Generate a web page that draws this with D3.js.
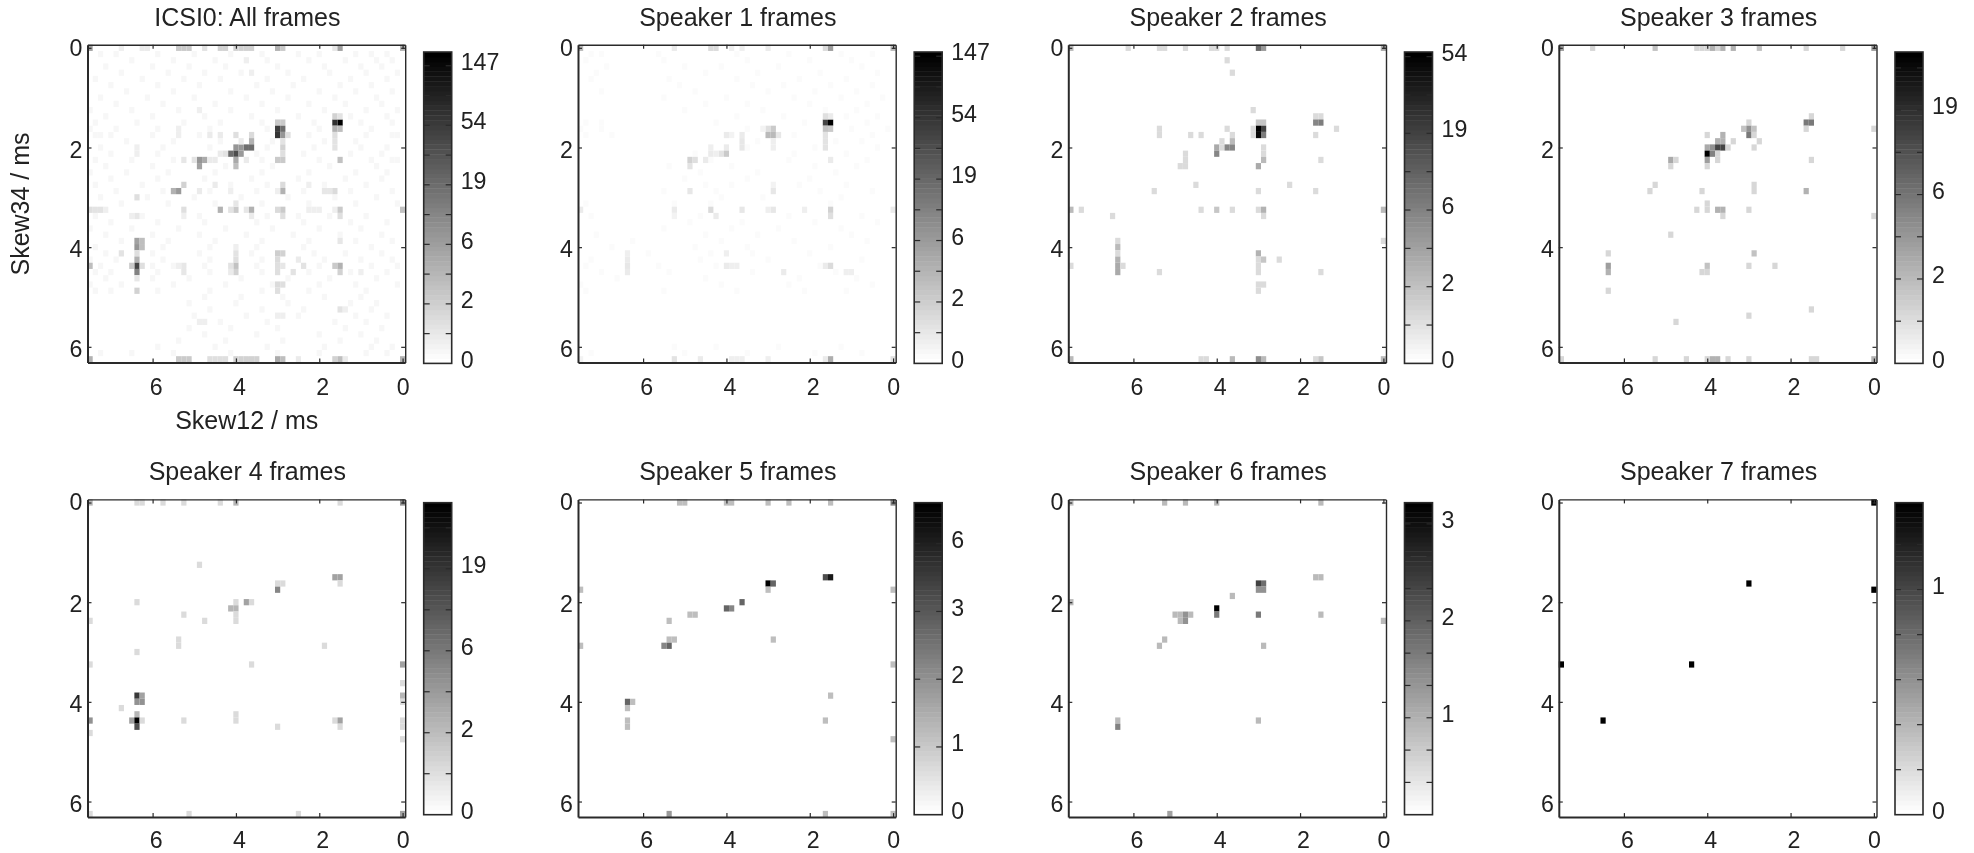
<!DOCTYPE html>
<html><head><meta charset="utf-8">
<script src="https://cdnjs.cloudflare.com/ajax/libs/d3/7.8.5/d3.min.js"></script>
<style>
html,body{margin:0;background:#fff;}
svg{display:block;filter:blur(0.45px);}
text{font-family:"Liberation Sans",Arial,sans-serif;fill:#222;}
</style></head><body><div id="chart"></div>
<script>
// Each cell: [column, row, count]; a bin is 1/8 ms. Column/row.
const titles = ["ICSI0: All frames","Speaker 1 frames","Speaker 2 frames","Speaker 3 frames","Speaker 4 frames","Speaker 5 frames","Speaker 6 frames","Speaker 7 frames"];
const xTicks = [6,4,2,0];
const yTicks = [0,2,4,6];
const barMax = [186,158,57,39,44,9,4,1];
const barStep = [0.5,0.5,0.5,0.5,0.5,0.5,1/6,0.1];
const barLabelAt = [[0,1,2,3,4,5],[0,1,2,3,4,5],[0,1,2,3,4],[0,1,2,3],[0,1,2,3],[0,0.5,1,1.5,2],[0.5,1,1.5],[0,0.5]];
const barLabels = [["0","2","6","19","54","147"],["0","2","6","19","54","147"],["0","2","6","19","54"],["0","2","6","19"],["0","2","6","19"],["0","1","2","3","6"],["1","2","3"],["0","1"]];

const cellsAll = [[12,12,186],[13,12,68],[13,11,1.6],[12,11,.8],[13,13,4],[12,13,3],[13,14,1],[13,15,.8],[13,16,.8],[12,18,2.5],
[60,0,6],[54,0,.4],[50,0,.6],[49,0,.6],[43,0,2],[42,0,2],[41,0,2],[38,0,.8],[35,0,1.6],[34,0,1.6],[32,0,1.6],[31,0,1.6],[30,0,1.6],[29,0,1.6],[24,0,4],[23,0,2],[13,0,.7],[12,0,6],[0,0,4],
[24,12,2],[23,12,2],[24,13,50],[23,13,18],[24,14,60],[23,14,8],[22,14,1],[23,15,.8],[23,16,1.5],[23,17,1],[24,18,2],[23,18,2],[29,14,1.2],[29,15,4],[30,16,18],[29,16,18],[31,16,8],[32,16,8],[31,15,.6],[32,14,1],[32,17,36],[33,17,18],[31,17,7],[34,17,.8],[35,17,.6],[32,18,5],[32,19,3],[30,18,.6],[39,18,8],[38,18,5],[40,18,.8],[37,18,.6],[36,18,.6],[39,19,6],[42,18,.7],[43,13,.5],[43,14,.5],[37,14,.6],[35,14,.6],[39,10,.4],[30,2,.4],[29,4,.4],[51,16,.4],[51,17,.4],
[42,22,1.5],[43,23,7],[44,23,4],[39,23,.6],[36,22,.6],[33,23,.5],[23,22,1.2],[23,23,4],[24,23,.5],[18,22,.5],[15,23,.7],[14,23,.7],[13,23,1.2],[51,24,1],
[59,26,.8],[58,26,.8],[57,26,.5],[60,26,1],[42,26,1],[35,26,4],[32,26,2],[33,26,.8],[30,26,.7],[29,26,4],[23,26,2],[24,26,1.2],[18,26,.5],[17,26,.5],[16,26,.5],[13,26,.5],[12,26,2],[0,26,2.5],[32,25,.7],[12,27,1],[23,27,1],[29,27,.6],[51,27,.7],[52,27,.5],[42,27,.4],
[51,31,6],[50,31,3],[51,32,8],[50,32,3],[51,33,1],[51,34,4],[51,35,44],[50,35,1],[52,35,2],[51,36,12],[51,37,.7],[51,39,1.5],[54,33,.8],[60,35,3],
[32,32,.5],[32,33,.8],[32,34,1],[32,35,2.5],[33,35,.8],[32,36,1.5],[33,36,.6],[42,35,.7],[42,36,.7],[43,35,.5],
[24,33,1.8],[23,33,1.5],[24,34,1.2],[24,35,1],[23,35,.7],[24,36,1],[21,36,.8],[20,34,.6],[19,35,.8],[13,35,2],[12,35,4],[12,36,1.5],[12,31,.7],[8,36,.4],[24,38,1.2],[23,38,1],[24,39,1],[12,42,.8],[11,42,.4],[24,43,.5],[23,43,.4],[38,44,.5],[39,44,.4],
[60,50,4],[43,50,2],[42,50,2],[41,50,2],[37,50,1],[36,50,1],[35,50,1],[34,50,1],[32,50,1.5],[31,50,1.5],[30,50,1.5],[29,50,1.5],[28,50,1.5],[24,50,5],[23,50,3],[20,50,.6],[13,50,1.5],[12,50,3],[11,50,.6],[0,50,4]];
// Faint speckle read row by row: [row, [columns...]]
const faintAll = [[1,[58,55,47,40,33,27,20,16,9,6,3]],[2,[52,44,36,26,18,11,5,2]],[3,[57,48,41,34,24,15,8,4]],[4,[54,45,38,31,22,14,7,1]],[5,[59,50,42,35,26,19,10,3]],[6,[56,47,39,28,21,12,6]],[7,[53,44,33,25,16,9,2]],[8,[58,49,40,30,22,13,5]],[9,[55,46,36,27,18,11,4]],[10,[60,52,43,33,24,15,7,1]],[11,[57,48,38,29,20,10,3]],[12,[59,51,42,35,27,17,8,2]],[13,[60,55,47,37,26,16,6]],[14,[59,58,56,48,39,18,7,2,1]],[15,[53,44,35,25,15,9]],[16,[58,46,37,26,17,8,3]],[17,[56,47,28,19,10,4]],[18,[59,52,44,27,16,6,2,1]],[19,[57,48,34,25,14,5]],[20,[60,53,45,36,27,18,9,3]],[21,[56,47,38,29,20,11,4]],[22,[59,50,33,26,15,7]],[23,[55,46,37,28,19,10,2]],[24,[58,49,40,31,22,13,5]],[25,[54,45,36,27,18,9,1]],[27,[59,50,39,26,20,14,7]],[28,[56,47,38,28,19,10,3]],[29,[60,52,43,34,25,16,8]],[30,[57,48,39,30,21,12,4]],[31,[54,45,36,27,18,9,2]],[32,[59,46,37,28,19,6]],[33,[57,48,39,29,17,11,4]],[34,[60,55,46,37,27,15,8,2]],[35,[58,48,44,38,28,16,6,1]],[36,[59,56,47,37,27,18,10,3]],[37,[57,48,41,31,22,14,5]],[38,[60,54,44,34,25,16,9,1]],[39,[59,56,47,37,27,18,7]],[40,[38,31,23,15,8]],[41,[41,32,22,10,5]],[42,[37,27,19,6]],[43,[40,30,20,9,3]],[44,[35,26,13,7]],[45,[41,33,24,11,4]],[46,[38,28,16,8]],[47,[43,34,23,12,5]],[48,[47,36,26,15,6,2]],[49,[58,52,44,33,24,16,7,3]]];

const cellsS1 = [[12,12,158],[13,12,40],[13,11,1],[12,11,.6],[13,13,2.5],[12,13,2],[13,14,.8],[13,15,.8],[13,16,.8],[12,18,.6],
[60,0,3],[42,0,.6],[35,0,1.2],[34,0,1.2],[13,0,1.2],[12,0,6],[24,0,.5],[29,0,.4],[31,0,.4],[0,0,3],
[24,13,1],[23,13,2],[24,14,3],[23,14,3],[22,14,.7],[25,13,.3],[23,15,.4],[23,16,.4],[29,14,.5],[29,15,.7],[29,16,.7],[32,14,.5],[31,14,.3],[32,16,.5],[33,17,.8],[32,17,2],[34,17,.4],[35,16,.4],[35,17,.5],[36,18,.6],[39,18,1.5],[38,18,1],[39,19,.8],[39,23,.7],[23,23,.7],[23,22,.3],
[60,26,.5],[42,26,.5],[35,26,1.2],[29,26,.7],[23,26,.7],[24,26,.4],[17,26,.4],[12,26,1.5],[0,26,.5],[12,27,1],[34,27,.5],[42,27,.3],
[12,35,1.2],[13,35,.5],[31,35,.4],[30,35,.4],[32,35,.5],[51,33,.4],[51,34,.6],[51,35,.7],[51,36,.5],[32,33,.4],[21,36,.5],[9,36,.4],[8,36,.4],
[60,50,.3],[42,50,.8],[37,50,.5],[31,50,.4],[30,50,.4],[29,50,.4],[24,50,.4],[12,50,4],[13,50,.6],[0,50,1]];
const faintS1 = [[1,[58,56,45,30,20,10,4]],[2,[59,44,28,16,8]],[3,[55,40,33,22,6]],[4,[57,36,26,14,3]],[5,[58,43,30,18,9]],[6,[41,27,21,12,4]],[7,[56,38,24,15,7]],[8,[44,32,19,10,2]],[9,[36,28,16,5]],[10,[40,25,13,7]],[11,[30,21,9,3]],[12,[59,56,34,17,5]],[13,[60,56,28,8,1]],[14,[59,54,19,4]],[15,[26,11,6]],[16,[28,15,3]],[17,[38,19,9]],[18,[35,20,5]],[19,[43,31,15,7]],[20,[37,26,11]],[21,[40,28,16]],[22,[36,31,18,9]],[23,[44,34,14,4]],[24,[33,25,10]],[25,[59,42,35,12]],[27,[58,37,20,6]],[28,[39,29,15,3]],[29,[44,31,22,10]],[30,[57,36,26,8]],[31,[50,33,19,5]],[32,[54,38,28,12]],[33,[47,35,27,16]],[34,[58,37,24,6]],[35,[59,45,34,14]],[36,[56,43,27,11]],[37,[53,36,18,7]],[38,[60,33,20,4]],[39,[59,44,30,17,9]],[48,[42,34,22,10]],[49,[58,40,28,15,6]]];

const cellsS2 = [[60,0,2],[49,0,.8],[43,0,.8],[42,0,.8],[38,0,.8],[33,0,.8],[32,0,.8],[30,0,.8],[24,0,10],[23,0,4],[0,0,3],[30,2,.8],[29,4,.8],[25,10,.8],
[24,12,1.5],[23,12,1.5],[13,11,.8],[12,11,.8],[13,12,6],[12,12,7],[24,13,57],[23,13,20],[25,13,.8],[24,14,50],[23,14,7],[25,14,.8],[43,13,.8],[43,14,.8],[9,13,.8],[13,14,.8],[37,14,.8],[35,14,.8],[30,13,.8],[29,14,.8],[29,15,2],[31,15,.8],[32,16,3],[31,16,.8],[30,16,6],[29,16,6],[32,17,6],[38,17,.8],[38,18,.8],[39,19,.8],[38,19,.8],[23,16,.8],[23,17,.8],[23,18,2],[24,19,3],[12,18,.8],[36,22,.8],[18,22,.8],[44,23,.8],[24,23,.8],[13,23,.8],
[60,26,2],[58,26,.8],[35,26,.8],[32,26,1.5],[29,26,.8],[24,26,.8],[23,26,2.5],[0,26,2],[52,27,.8],[23,27,.8],
[51,31,.8],[51,32,2],[51,33,.8],[51,34,2.5],[51,35,3],[51,36,3],[50,35,.8],[60,35,.8],[0,31,.8],[24,33,2.5],[24,34,.8],[23,34,1.5],[20,34,.8],[24,35,.8],[24,36,.8],[43,36,.8],[12,36,.8],[24,38,.8],[23,38,.8],[24,39,.8],
[60,50,2],[35,50,.8],[34,50,.8],[29,50,2],[24,50,5],[23,50,2],[13,50,.8],[12,50,1.5],[0,50,2]];

const cellsS3 = [[54,0,.8],[42,0,1.5],[34,0,.8],[33,0,.8],[32,0,.8],[31,0,2],[30,0,.8],[29,0,2],[27,0,2],[22,0,1.5],[13,0,.8],[6,0,.8],[0,0,3],[60,0,3],
[12,11,.8],[13,12,6],[12,12,6],[13,13,.8],[24,12,.8],[25,13,1.5],[24,13,4],[23,13,1.5],[24,14,6],[23,14,.8],[32,14,.8],[29,14,2],[30,15,2],[29,15,2],[27,15,.8],[22,15,.8],[23,16,.8],[32,16,2.5],[31,16,4],[30,16,14],[29,16,14],[28,16,.8],[32,17,39],[31,17,5],[30,17,.8],[32,18,3],[30,18,.8],[39,18,2.5],[38,18,.8],[39,19,.8],[32,19,.8],[12,18,.8],
[42,22,.8],[43,23,.8],[33,23,.8],[23,22,.8],[23,23,.8],[13,23,2],[32,25,.8],[34,26,.8],[32,26,.8],[30,26,2],[29,26,2],[24,26,.8],[29,27,.8],[0,27,.8],[0,13,.8],[39,30,.8],
[51,33,.8],[23,33,1.5],[51,35,3],[51,36,2],[32,35,1.5],[33,36,.8],[32,36,.8],[24,35,.8],[19,35,.8],[51,39,.8],[12,42,.8],[24,43,.8],[38,44,.8],
[60,50,.8],[42,50,.8],[36,50,.8],[32,50,.8],[31,50,2],[30,50,2],[28,50,.8],[24,50,.8],[12,50,.8],[11,50,.8],[0,50,2]];

const cellsS4 = [[60,0,2],[51,0,.8],[50,0,.8],[46,0,.8],[42,0,.8],[35,0,.8],[32,0,2],[12,0,.8],[0,0,4],[39,10,.8],[13,12,3],[12,12,3],[12,13,.8],[24,13,.8],[23,13,.8],[24,14,5],[51,16,.8],[32,16,.8],[30,16,3],[29,16,.8],[33,17,2],[32,17,2],[32,18,.8],[32,19,.8],[42,18,.8],[60,19,.8],[38,19,.8],[43,22,.8],[43,23,.8],[15,23,.8],[51,24,.8],[60,26,.8],[29,26,.8],[0,26,3],[0,29,.8],[0,31,2],[0,32,.8],
[51,31,18],[50,31,3],[51,32,4],[50,32,4],[54,33,.8],[51,34,2],[52,35,3],[51,35,44],[50,35,.8],[51,36,12],[60,35,4],[60,37,.8],[42,35,.8],[32,34,.8],[32,35,.8],[24,36,.8],[13,35,.8],[12,35,3],[12,36,.8],[0,35,.8],[0,36,.8],[0,38,.8],
[60,50,.8],[41,50,.8],[20,50,.8],[0,50,3]];

const cellsS5 = [[41,0,.8],[40,0,.8],[32,0,.8],[31,0,.8],[24,0,.8],[20,0,.8],[12,0,.8],[0,0,2],[13,12,4],[12,12,7],[24,13,9],[23,13,3],[24,14,.8],[60,14,.8],[0,14,.8],[29,16,3],[32,17,3],[31,17,2],[39,18,.8],[38,18,.8],[43,19,.8],[43,22,.8],[42,22,.8],[23,22,.8],[44,23,2],[43,23,3],[60,23,.8],[0,26,.8],[51,32,3],[50,32,.8],[51,33,.8],[51,35,.8],[51,36,.8],[12,31,.8],[13,35,.8],[0,38,.8],[43,50,1.5],[13,50,.8],[0,50,.8]];

const cellsS6 = [[60,0,.5],[42,0,.55],[38,0,.55],[32,0,.55],[12,0,.55],[60,16,.55],[13,12,.55],[12,12,.55],[24,13,2.3],[23,13,1.5],[24,14,1],[23,14,1],[29,15,.55],[32,17,4],[32,18,1.3],[40,18,.55],[39,18,.55],[38,18,1],[37,18,.55],[39,19,.55],[38,19,1],[24,18,1.3],[12,18,.55],[0,19,.55],[42,22,.55],[43,23,.55],[23,23,.55],[51,35,.55],[51,36,1.2],[24,35,.55],[41,50,.8]];

const cellsS7 = [[0,0,1],[0,14,1],[24,13,1],[60,26,1],[35,26,1],[52,35,1]];

const panelCells = [cellsAll,cellsS1,cellsS2,cellsS3,cellsS4,cellsS5,cellsS6,cellsS7];
const faintCells = [faintAll,faintS1,[],[],[],[],[],[]];
const faintCount = [0.22,0.12];

const W=1974,H=853;
const panelLeft=[87.5,578,1068.3,1558.8];
const panelTop=[44.7,499.4];
const size=317.7;
const binsPerMs=8, halfBin=1/16;
const xDomain=[61/binsPerMs-halfBin,-halfBin], yDomain=[-halfBin,51/binsPerMs-halfBin];

const svg=d3.select("#chart").append("svg").attr("width",W).attr("height",H);
const xScale=d3.scaleLinear().domain(xDomain).range([0,size]);
const yScale=d3.scaleLinear().domain(yDomain).range([0,size]);
const grays=d3.range(64).map(i=>{const v=Math.round(255*(1-i/63));return d3.rgb(v,v,v).formatHex();});
const tickFont=23.2, labelFont=25;

titles.forEach((t,p)=>{
  const row=p<4?0:1, col=p%4;
  const g=svg.append("g").attr("transform",`translate(${panelLeft[col]},${panelTop[row]})`);
  const top=Math.log1p(barMax[p]);
  const colour=d3.scaleQuantize().domain([0,top]).range(grays);
  const faint=[];
  faintCells[p].forEach(([r,cs])=>cs.forEach(c=>faint.push([c,r,faintCount[p]])));
  const cells=faint.concat(panelCells[p]);
  g.selectAll("rect.c").data(cells).join("rect").attr("class","c")
    .attr("x",d=>xScale((d[0]+.5)/binsPerMs))
    .attr("y",d=>yScale((d[1]-.5)/binsPerMs))
    .attr("width",xScale(0)-xScale(1/binsPerMs))
    .attr("height",yScale(1/binsPerMs)-yScale(0))
    .attr("fill",d=>colour(Math.log1p(d[2])));

  // axes: real labels on bottom and left, bare ticks mirrored on top and right
  const styleAxis=(a,w)=>{a.selectAll("path").attr("stroke","#2a2a2a").attr("stroke-width",w);a.selectAll("line").attr("stroke","#2a2a2a").attr("stroke-width",1.2);};
  const gb=g.append("g").attr("transform",`translate(0,${size})`).call(d3.axisBottom(xScale).tickValues(xTicks).tickSizeInner(-4).tickSizeOuter(0).tickPadding(row===0?16:14.6).tickFormat(d3.format("d")));
  const gl=g.append("g").call(d3.axisLeft(yScale).tickValues(yTicks).tickSizeInner(-4).tickSizeOuter(0).tickPadding(5).tickFormat(d3.format("d")));
  const gt=g.append("g").call(d3.axisTop(xScale).tickValues(xTicks).tickSizeInner(-4).tickSizeOuter(0).tickFormat(""));
  const gr=g.append("g").attr("transform",`translate(${size},0)`).call(d3.axisRight(yScale).tickValues(yTicks).tickSizeInner(-4).tickSizeOuter(0).tickFormat(""));
  styleAxis(gb,2);styleAxis(gl,2);styleAxis(gt,1.4);styleAxis(gr,1.4);
  [gb,gl].forEach(a=>a.selectAll("text").attr("font-size",tickFont).attr("font-family","'Liberation Sans',Arial,sans-serif").attr("fill","#222"));
  gb.selectAll("text").attr("dx",d=>d===0?0:3);
  gl.selectAll("text").attr("dy",d=>d===0?"0.32em":"0.42em");

  g.append("text").attr("x",size/2+1).attr("y",-19.2).attr("text-anchor","middle").attr("font-size",labelFont).text(t);

  // colour bar
  const barW=28, barX=size+18.5;
  const barY=row===0?[7.3,318.7]:[3.3,315.3];
  const yBar=d3.scaleLinear().domain([0,top]).range([barY[1],barY[0]]);
  const bar=g.append("g").attr("transform",`translate(${barX},0)`);
  bar.selectAll("rect.b").data(d3.range(64)).join("rect").attr("class","b")
    .attr("x",0).attr("width",barW)
    .attr("y",i=>yBar((i+1)*top/64)).attr("height",i=>yBar(i*top/64)-yBar((i+1)*top/64)+.4)
    .attr("fill",i=>grays[i]);
  const tickVals=d3.range(barStep[p],top,barStep[p]);
  bar.selectAll("line.l").data(tickVals).join("line").attr("class","l").attr("x1",0).attr("x2",6).attr("y1",yBar).attr("y2",yBar).attr("stroke","#2a2a2a").attr("stroke-width",1.2);
  bar.selectAll("line.r").data(tickVals).join("line").attr("class","r").attr("x1",barW-6).attr("x2",barW).attr("y1",yBar).attr("y2",yBar).attr("stroke","#2a2a2a").attr("stroke-width",1.2);
  bar.append("rect").attr("x",0).attr("width",barW).attr("y",barY[0]).attr("height",barY[1]-barY[0]).attr("fill","none").attr("stroke","#2a2a2a").attr("stroke-width",1.6);
  bar.selectAll("text").data(barLabelAt[p]).join("text")
    .attr("x",barW+9).attr("y",yBar).attr("dy","0.18em").attr("font-size",tickFont)
    .text((d,i)=>barLabels[p][i]);
});

svg.append("text").attr("x",246.7).attr("y",428.5).attr("text-anchor","middle").attr("font-size",labelFont).text("Skew12 / ms");
svg.append("text").attr("transform","translate(28.5,204) rotate(-90)").attr("text-anchor","middle").attr("font-size",labelFont).text("Skew34 / ms");
</script></body></html>
